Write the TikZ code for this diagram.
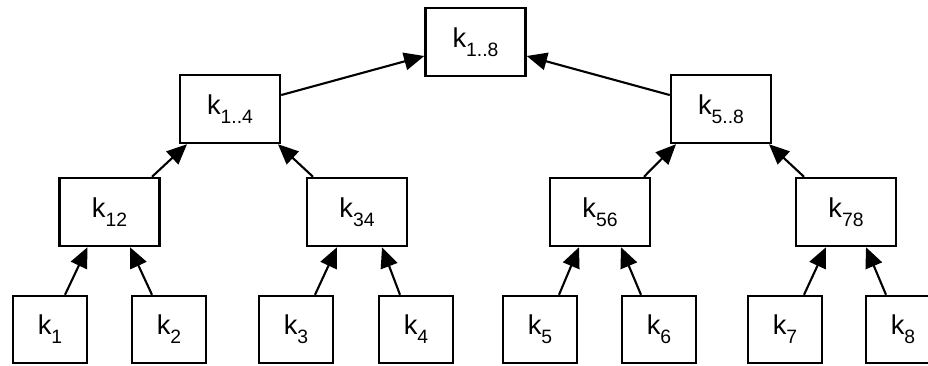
\documentclass[tikz,border=0pt]{standalone}
\usepackage{fontspec}
\setmainfont{Liberation Sans}
\usetikzlibrary{arrows.meta}

\newcommand{\kk}[1]{k\raisebox{-5pt}{\fontsize{11}{11}\selectfont #1}}

\begin{document}
\begin{tikzpicture}[x=0.2cm,y=0.2cm]
\tikzstyle{every node}+=[inner sep=0pt]
\tikzstyle{keybox}=[draw, line width=1.4pt, minimum width=2cm, minimum height=1.36cm, font=\fontsize{15.5}{15.5}\selectfont]
\tikzstyle{leafbox}=[keybox, minimum width=1.48cm, minimum height=1.34cm]
\tikzstyle{arr}=[line width=1.2pt, -{Triangle[length=11.5pt,width=10pt]}]
\useasboundingbox (0,0) rectangle (92.8,-36.5);
% root and second level
\node [keybox] (k18) at (47.55,-4.2) {\kk{1..8}};
\node [keybox] (k14) at (23.0,-10.9) {\kk{1..4}};
\node [keybox] (k58) at (72.1,-10.9) {\kk{5..8}};
% pairs
\node [keybox] (k12) at (10.95,-21.2) {\kk{12}};
\node [keybox] (k34) at (35.7,-21.2) {\kk{34}};
\node [keybox] (k56) at (60.0,-21.2) {\kk{56}};
\node [keybox] (k78) at (84.6,-21.2) {\kk{78}};
% leaves
\node [leafbox] (k1) at (5.0,-32.95) {\kk{1}};
\node [leafbox] (k2) at (16.9,-32.95) {\kk{2}};
\node [leafbox] (k3) at (29.6,-32.95) {\kk{3}};
\node [leafbox] (k4) at (41.6,-32.95) {\kk{4}};
\node [leafbox] (k5) at (54.0,-32.95) {\kk{5}};
\node [leafbox] (k6) at (65.9,-32.95) {\kk{6}};
\node [leafbox] (k7) at (78.5,-32.95) {\kk{7}};
\node [leafbox] (k8) at (90.3,-32.95) {\kk{8}};
% leaves up to pairs
\draw [arr] ([xshift=0.3cm]k1.north) -- ([xshift=-0.44cm]k12.south);
\draw [arr] ([xshift=-0.34cm]k2.north) -- ([xshift=0.41cm]k12.south);
\draw [arr] ([xshift=0.38cm]k3.north) -- ([xshift=-0.4cm]k34.south);
\draw [arr] ([xshift=-0.32cm]k4.north) -- ([xshift=0.5cm]k34.south);
\draw [arr] ([xshift=0.38cm]k5.north) -- ([xshift=-0.42cm]k56.south);
\draw [arr] ([xshift=-0.36cm]k6.north) -- ([xshift=0.42cm]k56.south);
\draw [arr] ([xshift=0.38cm]k7.north) -- ([xshift=-0.4cm]k78.south);
\draw [arr] ([xshift=-0.34cm]k8.north) -- ([xshift=0.4cm]k78.south);
% pairs up to halves
\draw [arr] ([xshift=0.85cm]k12.north) -- ([xshift=-0.86cm]k14.south);
\draw [arr] ([xshift=-0.88cm]k34.north) -- ([xshift=0.96cm]k14.south);
\draw [arr] ([xshift=0.88cm]k56.north) -- ([xshift=-0.9cm]k58.south);
\draw [arr] ([xshift=-0.84cm]k78.north) -- ([xshift=0.96cm]k58.south);
% halves up to root
\draw [arr] (k14) -- (k18);
\draw [arr] (k58) -- (k18);
\end{tikzpicture}
\end{document}
